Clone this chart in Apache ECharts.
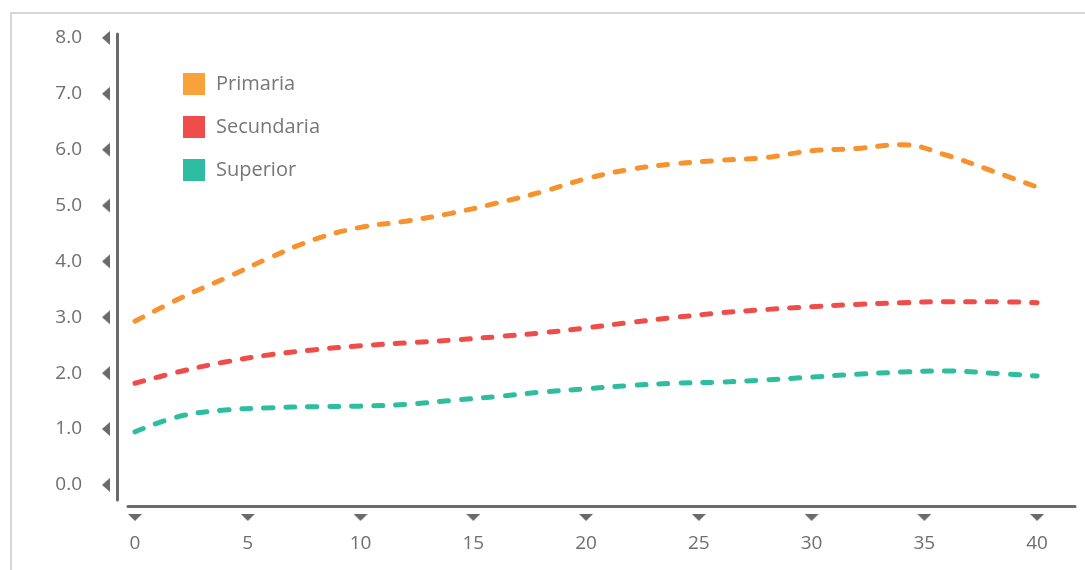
<!DOCTYPE html>
<html>
<head>
<meta charset="utf-8">
<script src="https://cdn.jsdelivr.net/npm/echarts@6/dist/echarts.min.js"></script>
<style>
html,body{margin:0;padding:0;background:#fff;}
#chart{width:1085px;height:570px;}
</style>
</head>
<body>
<div id="chart"></div>
<script>
// ---- data ----
const xValues = [0, 2, 4, 6, 8, 10, 12, 14, 16, 18, 20, 22, 24, 26, 28, 30, 32, 34, 36, 38, 40];
const primaria = [2.93, 3.34, 3.70, 4.07, 4.40, 4.61, 4.72, 4.86, 5.04, 5.24, 5.48, 5.65, 5.75, 5.81, 5.86, 5.98, 6.02, 6.09, 5.90, 5.62, 5.33];
const secundaria = [1.82, 2.03, 2.20, 2.33, 2.42, 2.49, 2.54, 2.59, 2.65, 2.72, 2.81, 2.91, 3.00, 3.08, 3.14, 3.19, 3.23, 3.26, 3.28, 3.28, 3.26];
const superior = [0.95, 1.23, 1.34, 1.38, 1.40, 1.41, 1.44, 1.51, 1.58, 1.66, 1.72, 1.78, 1.82, 1.84, 1.88, 1.93, 1.98, 2.02, 2.04, 2.00, 1.95];
const seriesNames = ['Primaria', 'Secundaria', 'Superior'];
const xTicks = [0, 5, 10, 15, 20, 25, 30, 35, 40];
const yTicks = [0, 1, 2, 3, 4, 5, 6, 7, 8];

// ---- styles ----
const lineColors = ['#F7922E', '#EF4D4A', '#2EBD9F'];
const legendColors = ['#F9A13B', '#EF4D4B', '#2EBCA3'];
const axisColor = '#6a6a6a';
const textColor = '#6e6e6e';
const fontFamily = '"Open Sans", "Noto Sans", sans-serif';

function triangle(w, h, dir) {
  const c = document.createElement('canvas');
  c.width = w; c.height = h;
  const g = c.getContext('2d');
  g.fillStyle = axisColor;
  g.beginPath();
  if (dir === 'left') { g.moveTo(w, 0); g.lineTo(0, h / 2); g.lineTo(w, h); }
  else { g.moveTo(0, 0); g.lineTo(w, 0); g.lineTo(w / 2, h); }
  g.closePath(); g.fill();
  return c;
}
const triLeft = triangle(8, 14, 'left');
const triDown = triangle(14, 7, 'down');

const pairs = arr => xValues.map((x, i) => [x, arr[i]]);
const allData = [primaria, secundaria, superior];

const chart = echarts.init(document.getElementById('chart'));
chart.setOption({
  animation: false,
  backgroundColor: '#fff',
  textStyle: { fontFamily },
  graphic: [{
    type: 'rect', silent: true,
    shape: { x: 11, y: 13, width: 1200, height: 700 },
    style: { fill: 'none', stroke: '#d6d6d6', lineWidth: 2 }
  }],
  legend: {
    orient: 'vertical', left: 183, top: 73, padding: 0,
    itemWidth: 22, itemHeight: 22, itemGap: 21, icon: 'rect',
    textStyle: { fontSize: 20, color: '#777', fontFamily, padding: [0, 0, 0, 6] },
    data: seriesNames.map((n, i) => ({ name: n, itemStyle: { color: legendColors[i] } }))
  },
  grid: { left: 128, right: 10, top: 34, bottom: 70 },
  xAxis: {
    type: 'value', min: -0.31, max: 41.68, offset: 6,
    axisLine: { show: true, onZero: false, lineStyle: { color: axisColor, width: 3 } },
    axisTick: { show: false }, splitLine: { show: false },
    axisLabel: {
      customValues: xTicks, margin: 8,
      formatter: v => '{t|}\n{v|' + v + '}',
      rich: {
        t: { width: 14, height: 7, backgroundColor: { image: triDown } },
        v: { fontSize: 19, color: textColor, fontFamily, lineHeight: 46 }
      }
    }
  },
  yAxis: {
    type: 'value', min: -0.27, max: 8.07, offset: 11,
    axisLine: { show: true, onZero: false, lineStyle: { color: axisColor, width: 3 } },
    axisTick: { show: false }, splitLine: { show: false },
    axisLabel: {
      customValues: yTicks, margin: 7,
      formatter: v => '{v|' + v.toFixed(1) + '}{t|}',
      rich: {
        t: { width: 8, height: 14, backgroundColor: { image: triLeft } },
        v: { fontSize: 19, color: textColor, fontFamily, padding: [0, 20, 0, 0] }
      }
    }
  },
  series: seriesNames.map((n, i) => ({
    name: n, type: 'line', smooth: 0.4, showSymbol: false, symbol: 'none',
    data: pairs(allData[i]),
    itemStyle: { color: legendColors[i] },
    lineStyle: { color: lineColors[i], width: 5, type: [9, 13], cap: 'round' }
  }))
});
</script>
</body>
</html>
